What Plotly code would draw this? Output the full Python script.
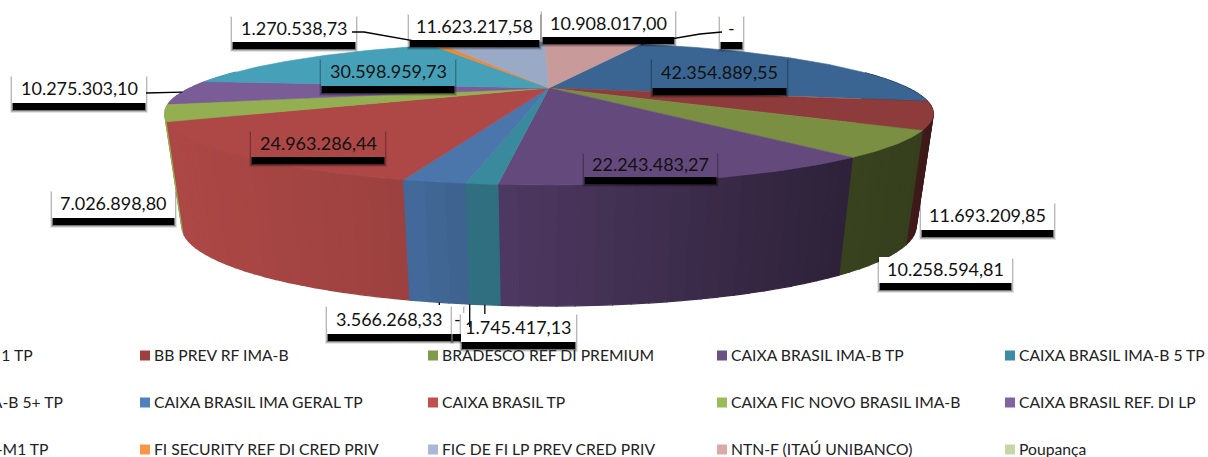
import numpy as np
import plotly.graph_objects as go

CATEGORIES = ["BB PREV RF IRF-M 1 TP", "BB PREV RF IMA-B", "BRADESCO REF DI PREMIUM", "CAIXA BRASIL IMA-B TP",
              "CAIXA BRASIL IMA-B 5 TP", "CAIXA BRASIL IMA-B 5+ TP", "CAIXA BRASIL IMA GERAL TP", "CAIXA BRASIL TP",
              "CAIXA FIC NOVO BRASIL IMA-B", "CAIXA BRASIL REF. DI LP", "CAIXA BRASIL IRF-M1 TP",
              "FI SECURITY REF DI CRED PRIV", "FIC DE FI LP PREV CRED PRIV", "NTN-F (ITAÚ UNIBANCO)", "Poupança"]
VALUES = [42354889.55, 11693209.85, 10258594.81, 22243483.27, 1745417.13, 0, 3566268.33, 24963286.44,
          7026898.80, 10275303.10, 30598959.73, 1270538.73, 11623217.58, 10908017.00, 0]
TOP_COLORS = ["#3A6592", "#8E3C3B", "#7A8F42", "#64497D", "#3A8A9E", "#3C6E9E", "#4A76AC", "#AD4846", "#94AE52",
              "#7A5C96", "#46A0B8", "#E98B3C", "#9AA9C6", "#C89A9A", "#C4D6A0"]
LEGEND_COLORS = ["#4F81BD", "#9E413E", "#7F9A48", "#695185", "#3C8DA3", "#4BACC6", "#4F81BD", "#C0504D",
                 "#9BBB59", "#8064A2", "#4BACC6", "#F79646", "#A8B9D8", "#DDA9A8", "#C6D6A7"]

# label boxes (x0, y0, x1, y1) in page pixels, keyed by slice position
BOXES = {0: (652, 58, 787, 88), 1: (921, 202, 1054, 230), 2: (879, 257, 1012, 283), 3: (584, 152, 717, 177),
         4: (461, 313, 576, 342), 5: (452, 305, 463, 334), 6: (327, 305, 452, 334), 7: (251, 130, 385, 157),
         8: (52, 190, 175, 218), 9: (12, 75, 146, 103), 10: (321, 58, 455, 86), 11: (232, 15, 356, 42),
         12: (409, 13, 540, 40), 13: (542, 10, 675, 37), 14: (720, 15, 743, 42)}
FILLED = {0, 3, 7, 10}

CX, CY = 549, 88
TOP_A, TOP_B, K = 359, 62.4, -0.357
BOT_A, BOT_B, BOT_Y = 343, 69.8, 197.5
START = 20.0


def rim(theta, a, b, y0):
    t = np.radians(theta)
    u, v = np.sin(t), -np.cos(t)
    d = 1 + K * v
    return CX + a * u / d, y0 + b * v / d


def fmt(v):
    if v == 0:
        return "-"
    return f"{v:,.2f}".replace(",", "#").replace(".", ",").replace("#", ".")


def shade(color, f):
    r, g, b = [int(color[i:i + 2], 16) for i in (1, 3, 5)]
    return f"rgb({r * f:.0f},{g * f:.0f},{b * f:.0f})"


total = sum(VALUES)
edges = START + 360 * np.cumsum([0] + VALUES) / total
fig = go.Figure()


def poly(x, y, color, width=0.6):
    fig.add_trace(go.Scatter(x=x, y=y, mode="lines", fill="toself", fillcolor=color,
                             line=dict(color=color, width=width), hoverinfo="skip", showlegend=False))


# side walls, back to front
order = sorted(range(len(VALUES)), key=lambda i: -abs(((edges[i] + edges[i + 1]) / 2 % 360) - 180))
for i in order:
    a0, a1 = edges[i], edges[i + 1]
    if a1 == a0:
        continue
    steps = max(1, int((a1 - a0) / 2))
    grid = np.linspace(a0, a1, steps + 1)
    for s0, s1 in zip(grid[:-1], grid[1:]):
        if 285 < (s0 % 360) or (s1 % 360) < 75:
            continue
        tt = np.linspace(s0, s1, 4)
        tx, ty = rim(tt, TOP_A, TOP_B, CY)
        bx, by = rim(tt[::-1], BOT_A, BOT_B, BOT_Y)
        f = np.interp((tx[0] + tx[-1]) / 2, [165, 405, 500, 830, 930], [1.0, 0.9, 0.78, 0.47, 0.44])
        poly(np.r_[tx, bx, tx[0]], np.r_[ty, by, ty[0]], shade(TOP_COLORS[i], f), 1.2)

# top face
for i in range(len(VALUES)):
    if edges[i + 1] == edges[i]:
        continue
    tt = np.linspace(edges[i], edges[i + 1], max(3, int(edges[i + 1] - edges[i]) * 2))
    x, y = rim(tt, TOP_A, TOP_B, CY)
    poly(np.r_[CX, x, CX], np.r_[CY, y, CY], TOP_COLORS[i])

# legend swatches
COLS, ROWS = [-148, 140, 428, 717, 1005], [355.5, 402.5, 449.5]
LEG_ORDER = [(r, c) for r in range(3) for c in range(5)]
lx = [COLS[c] + 5 for r, c in LEG_ORDER]
ly = [ROWS[r] for r, c in LEG_ORDER]
fig.add_trace(go.Scatter(x=lx, y=ly, mode="markers", hoverinfo="skip", showlegend=False,
                         marker=dict(symbol="square", size=10, color=LEGEND_COLORS)))

shapes, annos = [], []
FONT = "Lato, Carlito, Calibri, sans-serif"
for i in sorted(BOXES, reverse=True):
    x0, y0, x1, y1 = BOXES[i]
    for grow, op in ((3, 0.10), (2, 0.2), (1, 0.35), (0, 1)):
        shapes.append(dict(type="rect", x0=x0 + 1 - grow, x1=x1 - 1 + grow, y0=y0 + 4 - grow, y1=y1 + 7 + grow,
                           fillcolor="black", opacity=op, line_width=0, layer="above"))
    color = TOP_COLORS[i] if i in FILLED else "white"
    shapes.append(dict(type="rect", x0=x0, x1=x1, y0=y0, y1=y1, fillcolor=color, line_width=0, layer="above"))
    annos.append(dict(x=(x0 + x1) / 2, y=(y0 + y1) / 2 - 1, text=fmt(VALUES[i]), showarrow=False,
                      font=dict(family=FONT, size=18, color="#111")))

# leader lines from a label to its slice
LEADER_STARTS = {11: [(352, 32), (364, 32)], 9: [(146, 93)], 14: [(722, 32), (700, 34)]}
for i, pts in LEADER_STARTS.items():
    ex, ey = rim((edges[i] + edges[i + 1]) / 2, TOP_A, TOP_B, CY)
    path = "M " + " L ".join(f"{x},{y}" for x, y in pts + [(float(ex), float(ey))])
    shapes.append(dict(type="path", path=path, line=dict(color="black", width=1.3), layer="above"))
for i, tail in {6: 305, 5: 327, 4: 314}.items():
    ex, ey = rim((edges[i] + edges[i + 1]) / 2, BOT_A, BOT_B, BOT_Y)
    shapes.append(dict(type="line", x0=float(ex), x1=float(ex), y0=float(ey), y1=tail,
                       line=dict(color="black", width=1.3), layer="above"))

n_boxes = len(annos)
for idx, (r, c) in enumerate(LEG_ORDER):
    annos.append(dict(x=COLS[c] + 12, y=ROWS[r] - 0.5, text=CATEGORIES[idx], showarrow=False, xanchor="left",
                      font=dict(family=FONT, size=15.7, color="#222")))
# first-column labels run off the left of the page: anchor them by their right end
for idx, end in ((0, 35), (5, 65), (10, 50)):
    annos[n_boxes + idx].update(x=end, xanchor="right")

fig.update_layout(width=1208, height=457, margin=dict(l=0, r=0, t=0, b=0), paper_bgcolor="white",
                  plot_bgcolor="white", shapes=shapes, annotations=annos, showlegend=False,
                  xaxis=dict(range=[0, 1208], visible=False, fixedrange=True),
                  yaxis=dict(range=[457, 0], visible=False, fixedrange=True))
fig.write_html("out.html", config=dict(displayModeBar=False),
               post_script="document.body.style.margin='0';document.body.style.overflow='hidden';")
